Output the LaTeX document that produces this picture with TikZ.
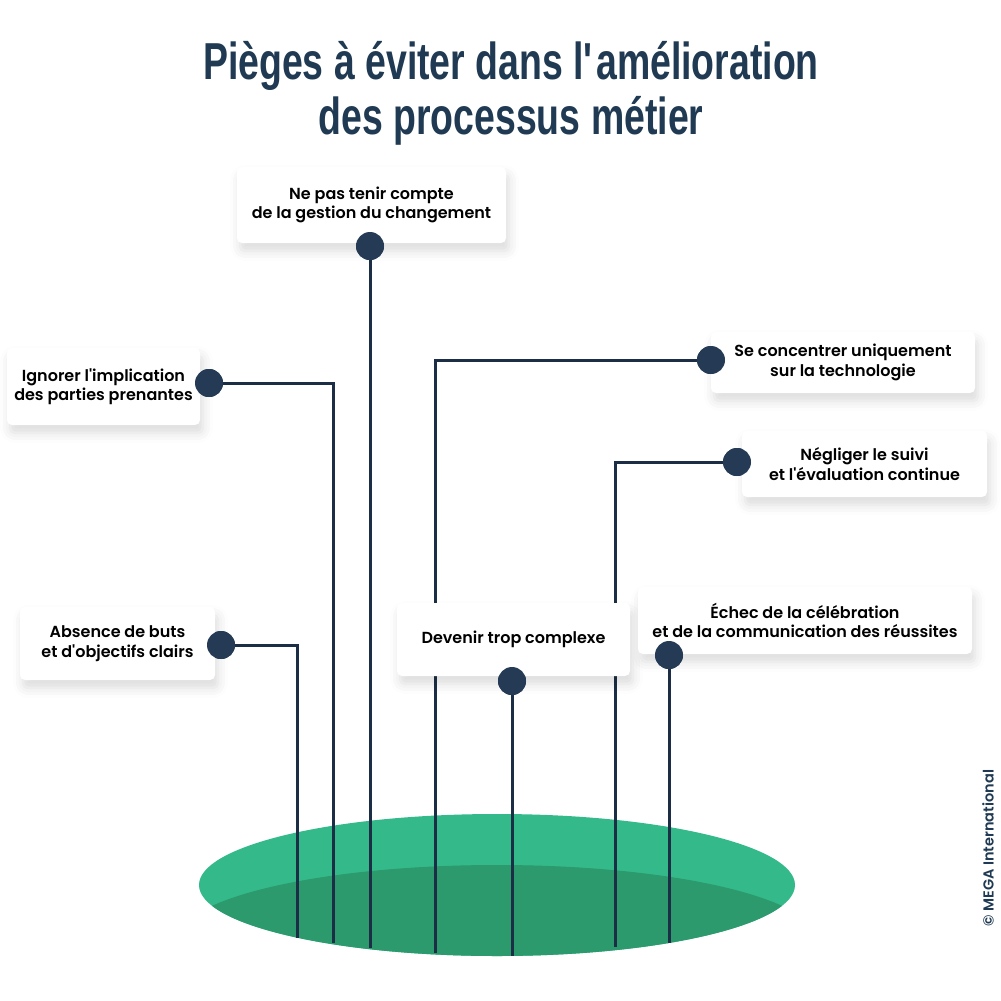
\documentclass[tikz,border=0pt]{standalone}
\usepackage{fontspec}
\setmainfont{Poppins}[BoldFont={Poppins SemiBold}]
\newfontfamily\titlefont{Liberation Sans}[FakeStretch=0.72]
\usetikzlibrary{positioning,shadows.blur}

\definecolor{navy}{HTML}{1F3A52}
\definecolor{linknavy}{HTML}{1C2E45}
\definecolor{dotnavy}{HTML}{243A55}
\definecolor{greenlight}{HTML}{34B98B}
\definecolor{greendark}{HTML}{2C9A6C}

\begin{document}
\begin{tikzpicture}[
    x=1pt, y=-1pt,
    every node/.style={font=\fontsize{16}{19.5}\selectfont\bfseries},
    card/.style={
      fill=white, rounded corners=5pt, align=center, inner sep=0pt,
      blur shadow={shadow xshift=3pt, shadow yshift=-8pt,
        shadow blur radius=10pt, shadow opacity=14}
    },
    pin/.style={circle, fill=dotnavy, minimum size=28pt, inner sep=0pt},
    link/.style={draw=linknavy, line width=3pt},
    title/.style={font=\titlefont\bfseries\fontsize{52}{55}\selectfont,
      text=navy, align=center}
  ]
    \useasboundingbox (0,0) rectangle (1001,1001);

    % title
    \node[title] (head) at (511,93) {Pièges à éviter dans l\textquotesingle amélioration\\des processus métier};

    % green pit
    \fill[greenlight] (497,885) ellipse [x radius=298, y radius=71];
    \begin{scope}
      \clip (497,885) ellipse [x radius=298, y radius=71];
      \fill[greendark] (497,940) ellipse [x radius=320, y radius=75];
    \end{scope}

    % line ends in the pit
    \coordinate (e1) at (370,948);
    \coordinate (e2) at (333,943);
    \coordinate (e3) at (435,953);
    \coordinate (e4) at (615,947);
    \coordinate (e5) at (297,938);
    \coordinate (e6) at (512,956);
    \coordinate (e7) at (669,943);

    \node[pin] (p1) at (370,246) {};
    \node[pin] (p2) at (209,383) {};
    \node[pin] (p3) at (711,360) {};
    \node[pin] (p4) at (737,462) {};
    \node[pin] (p5) at (221,645) {};
    \node[pin] (p6) at (512,681) {};
    \node[pin] (p7) at (669,655) {};

    \draw[link] (p1.center) -- (e1);
    \draw[link] (p2.center) -| (e2);
    \draw[link] (p3.center) -| (e3);
    \draw[link] (p4.center) -| (e4);
    \draw[link] (p5.center) -| (e5);
    \draw[link] (p6.center) -- (e6);
    \draw[link] (p7.center) -- (e7);

    % cards
    \node[card, minimum width=269pt, minimum height=76pt] (c1) at (371.5,205)
      {Ne pas tenir compte\\de la gestion du changement};
    \node[card, minimum width=193pt, minimum height=77pt] (c2) at (103.5,386.5)
      {Ignorer l\textquotesingle implication\\des parties prenantes};
    \node[card, minimum width=264pt, minimum height=61pt] (c3) at (843,362.5)
      {Se concentrer uniquement\\sur la technologie};
    \node[card, minimum width=245pt, minimum height=66pt] (c4) at (864.5,464)
      {Négliger le suivi\\et l\textquotesingle évaluation continue};
    \node[card, minimum width=195pt, minimum height=73pt] (c5) at (117.5,643.5)
      {Absence de buts\\et d\textquotesingle objectifs clairs};
    \node[card, minimum width=233pt, minimum height=73pt] (c6) at (513.5,639.5)
      {Devenir trop complexe};
    \node[card, minimum width=334pt, minimum height=67pt] (c7) at (805,620.5)
      {Échec de la célébration\\et de la communication des réussites};

    % pins on top of the cards
    \foreach \p in {p1,p2,p3,p4,p5,p6,p7}
      \fill[dotnavy] (\p) circle[radius=14pt];

    \node[rotate=90, text=navy, font=\fontsize{14.5}{16}\selectfont\bfseries]
      (copy) at (988,848) {© MEGA International};
\end{tikzpicture}
\end{document}
